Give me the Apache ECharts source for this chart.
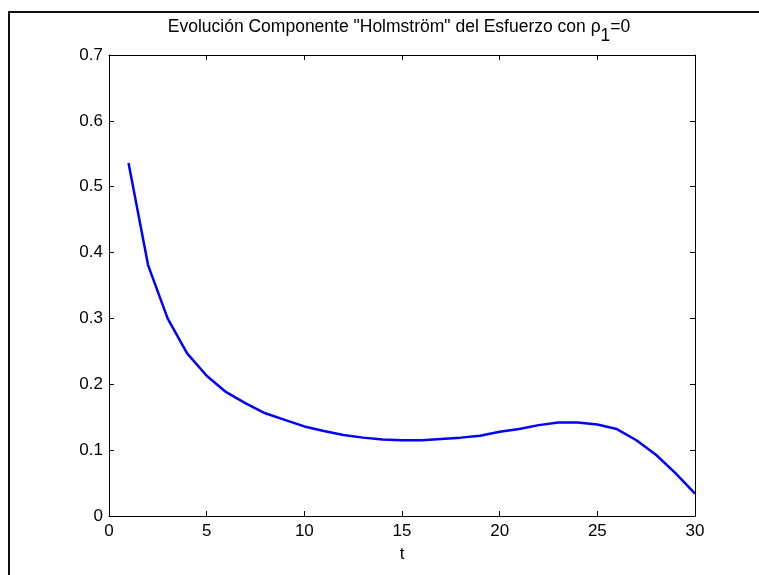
<!DOCTYPE html>
<html>
<head>
<meta charset="utf-8">
<script src="https://cdn.jsdelivr.net/npm/echarts@6/dist/echarts.min.js"></script>
<style>
  html, body { margin: 0; padding: 0; background: #fff; }
  #main { width: 759px; height: 575px; }
</style>
</head>
<body>
<div id="main"></div>
<script>
// periods and effort component values
var tVals = [1, 2, 3, 4, 5, 6, 7, 8, 9, 10,
             11, 12, 13, 14, 15, 16, 17, 18, 19, 20,
             21, 22, 23, 24, 25, 26, 27, 28, 29, 30];
var effort = [0.536, 0.381, 0.300, 0.247, 0.213, 0.188, 0.171, 0.156, 0.146, 0.136,
              0.129, 0.123, 0.119, 0.116, 0.115, 0.115, 0.117, 0.119, 0.122, 0.128,
              0.132, 0.138, 0.142, 0.142, 0.139, 0.132, 0.115, 0.093, 0.065, 0.034];
var xTicks = [0, 5, 10, 15, 20, 25, 30];
var yTicks = [0, 0.1, 0.2, 0.3, 0.4, 0.5, 0.6, 0.7];

var seriesData = [];
for (var i = 0; i < tVals.length; i++) {
    seriesData.push([tVals[i], effort[i]]);
}

var font = 'Liberation Sans, Arial, sans-serif';
var axisBase = {
    axisLine: {show: true, onZero: false, lineStyle: {color: '#000', width: 1}},
    axisTick: {show: true, inside: true, length: 5, lineStyle: {color: '#000'}},
    splitLine: {show: false}
};

var myChart = echarts.init(document.getElementById('main'));
var option = {
    backgroundColor: '#fff',
    animation: false,
    title: {
        left: 399,
        textAlign: 'center',
        top: 18,
        padding: 0,
        text: '{a|Evolución Componente "Holmström" del Esfuerzo con ρ}{s|1}{a|=0}',
        textStyle: {
            fontWeight: 'normal',
            rich: {
                a: {fontFamily: font, fontSize: 17.5, fontWeight: 'normal', color: '#000', verticalAlign: 'top', lineHeight: 20},
                s: {fontFamily: font, fontSize: 17.5, fontWeight: 'normal', color: '#000', lineHeight: 36}
            }
        }
    },
    graphic: [{
        type: 'rect',
        shape: {x: 9, y: 12, width: 800, height: 600},
        style: {fill: 'none', stroke: '#111', lineWidth: 2},
        silent: true
    }],
    grid: {left: 109, top: 55, right: 64, bottom: 59, containLabel: false},
    xAxis: [
        Object.assign({
            type: 'value', min: 0, max: 30, interval: 5,
            name: 't', nameLocation: 'middle', nameGap: 30,
            nameTextStyle: {fontFamily: font, fontSize: 17, color: '#000'},
            axisLabel: {fontFamily: font, fontSize: 17, color: '#000', margin: 7,
                        formatter: function (v) { return xTicks.indexOf(v) >= 0 ? String(v) : ''; }}
        }, axisBase),
        Object.assign({
            type: 'value', min: 0, max: 30, interval: 5, position: 'top',
            axisLabel: {show: false}
        }, axisBase)
    ],
    yAxis: [
        Object.assign({
            type: 'value', min: 0, max: 0.7, interval: 0.1,
            axisLabel: {fontFamily: font, fontSize: 17, color: '#000', margin: 6,
                        formatter: function (v) {
                            var r = Math.round(v * 10) / 10;
                            return yTicks.indexOf(r) >= 0 ? String(r) : '';
                        }}
        }, axisBase),
        Object.assign({
            type: 'value', min: 0, max: 0.7, interval: 0.1, position: 'right',
            axisLabel: {show: false}
        }, axisBase)
    ],
    series: [{
        type: 'line',
        data: seriesData,
        xAxisIndex: 0,
        yAxisIndex: 0,
        showSymbol: false,
        symbol: 'none',
        lineStyle: {color: '#0000ff', width: 2.5},
        itemStyle: {color: '#0000ff'}
    }]
};

myChart.setOption(option);
</script>
</body>
</html>
